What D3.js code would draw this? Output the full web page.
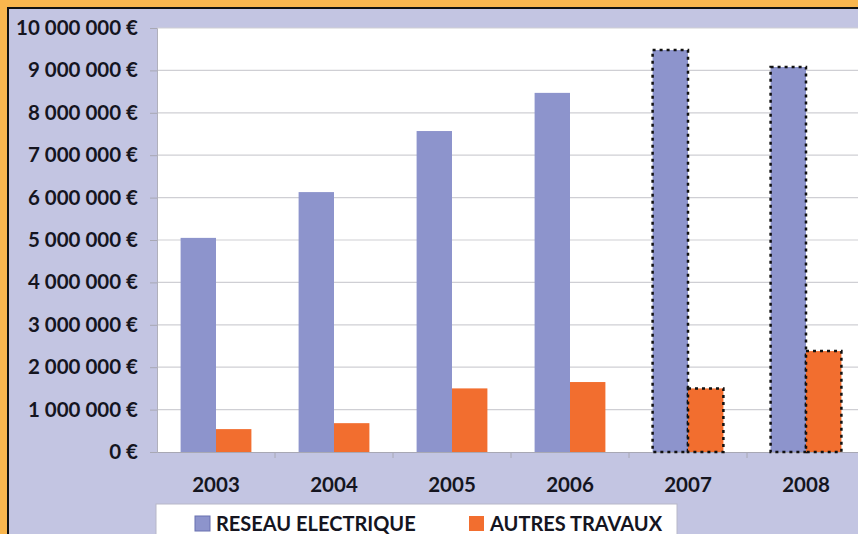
<!DOCTYPE html>
<html lang="fr">
<head>
<meta charset="utf-8">
<title>Réseau électrique / autres travaux</title>
<style>
  body { margin: 0; background: #f9b64e; }
  svg { display: block; font-family: Lato, "Open Sans", sans-serif; font-weight: bold; }
</style>
</head>
<body>
<svg id="chart" width="858" height="534"></svg>
<script src="https://d3js.org/d3.v7.min.js"></script>
<script>
const years = ["2003", "2004", "2005", "2006", "2007", "2008"];
const series = ["RESEAU ELECTRIQUE", "AUTRES TRAVAUX"];
const reseau = [5050000, 6130000, 7570000, 8470000, 9480000, 9080000];
const autres = [540000, 680000, 1500000, 1650000, 1500000, 2380000];
const estimated = ["2007", "2008"]; // dotted outline years
const yTicks = [0, 1000000, 2000000, 3000000, 4000000, 5000000, 6000000, 7000000, 8000000, 9000000, 10000000];

const colors = { "RESEAU ELECTRIQUE": "#8d94cc", "AUTRES TRAVAUX": "#f26e2f" };

const svg = d3.select("#chart");
const W = 858, H = 534;

// frame
svg.append("rect").attr("width", W).attr("height", H).attr("fill", "#f9b64e");
svg.append("rect").attr("x", 8).attr("y", 8).attr("width", W).attr("height", H)
  .attr("fill", "#c3c5e2").attr("stroke", "#111").attr("stroke-width", 2);

const plot = { left: 157, top: 28, bottom: 452, right: 865 };

const x0 = d3.scaleBand().domain(years).range([plot.left, plot.right])
  .paddingInner(0.4).paddingOuter(0.2);
const x1 = d3.scaleBand().domain(series).range([0, x0.bandwidth()]);
const y = d3.scaleLinear().domain([0, 10000000]).range([plot.bottom, plot.top]);

// plot area
svg.append("rect").attr("x", plot.left).attr("y", plot.top)
  .attr("width", W - plot.left).attr("height", plot.bottom - plot.top)
  .attr("fill", "#fff");

// gridlines
svg.append("g").selectAll("line").data(yTicks.slice(1)).enter().append("line")
  .attr("x1", plot.left).attr("x2", W)
  .attr("y1", d => y(d)).attr("y2", d => y(d))
  .attr("stroke", "#cfcfd4").attr("stroke-width", 1.2);

// y axis
const fmt = d => d3.format(",")(d).replace(/,/g, " ") + " €";
const yAxis = svg.append("g").attr("transform", `translate(${plot.left},0)`)
  .call(d3.axisLeft(y).tickValues(yTicks).tickSize(7).tickPadding(12).tickFormat(fmt));
yAxis.select(".domain").attr("stroke", "#b0b0bc");
yAxis.selectAll(".tick line").attr("stroke", "#a8a8b4");
yAxis.selectAll("text").attr("fill", "#15151f").style("font-size", "20.5px")
  .style("font-family", "Lato, sans-serif").style("font-weight", "bold");

// x axis
const xAxis = svg.append("g").attr("transform", `translate(0,${plot.bottom})`)
  .call(d3.axisBottom(x0).tickSize(0).tickPadding(25));
xAxis.select(".domain").attr("stroke", "#a8a8b4");
xAxis.selectAll("text").attr("fill", "#15151f").style("font-size", "20.5px")
  .style("font-family", "Lato, sans-serif").style("font-weight", "bold");
// small separators between categories
svg.append("g").selectAll("line").data(years.slice(1)).enter().append("line")
  .attr("x1", d => x0(d) - x0.step() * 0.2).attr("x2", d => x0(d) - x0.step() * 0.2)
  .attr("y1", plot.bottom).attr("y2", plot.bottom + 6)
  .attr("stroke", "#a8a8b4");

// bars
const rows = years.map((yr, i) => ({ year: yr, values: [
  { key: series[0], value: reseau[i] },
  { key: series[1], value: autres[i] }
]}));

const groups = svg.append("g").selectAll("g").data(rows).enter().append("g")
  .attr("transform", d => `translate(${x0(d.year)},0)`);

groups.selectAll("rect").data(d => d.values.map(v => ({ ...v, year: d.year }))).enter().append("rect")
  .attr("x", d => x1(d.key))
  .attr("y", d => y(d.value))
  .attr("width", x1.bandwidth())
  .attr("height", d => y(0) - y(d.value))
  .attr("fill", d => colors[d.key])
  .attr("stroke", d => estimated.includes(d.year) ? "#111" : "none")
  .attr("stroke-width", 2.5)
  .attr("stroke-dasharray", "3,4");

// legend
const legend = svg.append("g");
legend.append("rect").attr("x", 156).attr("y", 504).attr("width", 521).attr("height", 40)
  .attr("fill", "#fff").attr("stroke", "#b8b8c8");
const legendPos = [195, 469];
series.forEach((s, i) => {
  legend.append("rect").attr("x", legendPos[i]).attr("y", 516).attr("width", 15).attr("height", 15)
    .attr("fill", colors[s]).attr("stroke", i === 0 ? "#6870b0" : "none");
  legend.append("text").attr("x", legendPos[i] + 21).attr("y", 531)
    .attr("fill", "#15151f").style("font-size", "20px").text(s);
});
</script>
</body>
</html>
